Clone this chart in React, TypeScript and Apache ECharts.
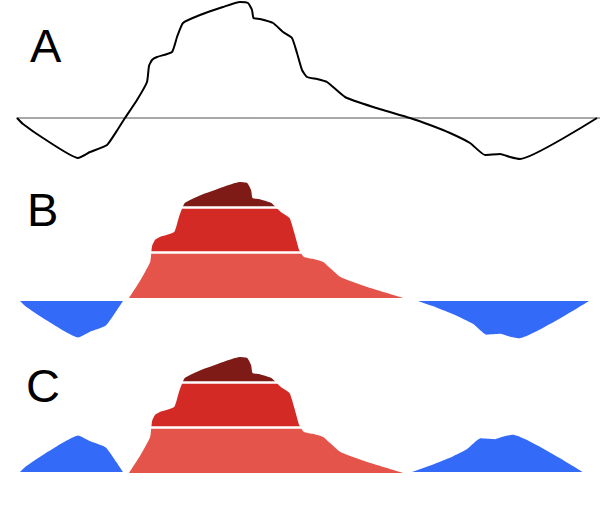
import React, { useEffect, useRef } from "react";
import * as echarts from "echarts";

// Series (time position, value; baseline = 0)
const times = [17, 23, 43, 78, 90, 107, 118, 125, 137, 147, 149, 152, 157, 172, 177, 183, 200, 223, 240, 248, 252, 253.5, 260, 273, 283, 292, 297, 302, 307, 317, 327, 345, 373, 410, 430, 450, 470, 485, 500, 510, 520, 597];
const values = [0, -6, -20, -40, -34, -27, -11, 0, 18, 36, 52, 58, 61, 66, 81, 95, 103, 111, 116, 115, 108, 100, 99, 95, 86, 80, 65, 48, 41, 39, 36, 21, 11, 0, -7, -15, -25, -37, -36, -39, -41, 0];

// Horizon band edges and the zero crossings that bound each segment
const bandEdges = [46, 91];
const crossings = [17, 125, 410, 597];
const panelLabels = ["A", "B", "C"];

const COLORS = {
  band1: "#E4544A",
  band2: "#D32A25",
  band3: "#7E1B16",
  negative: "#336AF8",
  line: "#000000",
  baseline: "#8c8c8c",
};

const SMOOTH = 0.15;

export default function App() {
  const ref = useRef<HTMLDivElement>(null);

  useEffect(() => {
    document.body.style.margin = "0";
    if (!ref.current) return;
    const chart = echarts.init(ref.current, undefined, { renderer: "svg" });
    const pts = times.map((x, i) => [x, values[i]]);
    const posMax = 118;
    const negMin = -45;

    // grid layouts (pixels) and axis domains
    const grids = [
      { left: 17, top: 0, width: 583, height: 163 }, // A
      { left: 129, top: 180, width: 274, height: 118 }, // B red
      { left: 20, top: 301, width: 103, height: 41 }, // B blue left
      { left: 418, top: 301, width: 171, height: 41 }, // B blue right
      { left: 129, top: 355, width: 274, height: 118 }, // C red
      { left: 20, top: 431, width: 103, height: 41 }, // C blue left
      { left: 412, top: 431, width: 171, height: 41 }, // C blue right
    ];
    const xDomains = [
      [crossings[0], 600],
      [crossings[1], crossings[2]],
      [crossings[0], crossings[1]],
      [crossings[2], crossings[3]],
      [crossings[1], crossings[2]],
      [crossings[0], crossings[1]],
      [crossings[2], crossings[3]],
    ];
    const yDomains = [
      [negMin, posMax],
      [0, posMax],
      [negMin, 0],
      [negMin, 0],
      [0, posMax],
      [negMin, 0],
      [negMin, 0],
    ];
    const inverse = [false, false, false, false, false, true, true];

    const xAxis = xDomains.map((d, i) => ({
      type: "value",
      gridIndex: i,
      min: d[0],
      max: d[1],
      show: i === 0,
      axisLine: { show: i === 0, onZero: true, lineStyle: { color: COLORS.baseline, width: 1.5 } },
      axisTick: { show: false },
      axisLabel: { show: false },
      splitLine: { show: false },
    }));
    const yAxis = yDomains.map((d, i) => ({
      type: "value",
      gridIndex: i,
      min: d[0],
      max: d[1],
      inverse: inverse[i],
      show: false,
      splitLine: { show: false },
    }));

    const redSeries = (idx: number) => ({
      type: "line",
      xAxisIndex: idx,
      yAxisIndex: idx,
      data: pts,
      smooth: SMOOTH,
      showSymbol: false,
      clip: true,
      lineStyle: { width: 0, opacity: 0 },
      areaStyle: { opacity: 1 },
      markLine: {
        silent: true,
        symbol: ["none", "none"],
        label: { show: false },
        lineStyle: { color: "#ffffff", width: 2.5, type: "solid", opacity: 1 },
        data: bandEdges.map((v) => ({ yAxis: v })),
      },
    });
    const blueSeries = (idx: number) => ({
      type: "line",
      xAxisIndex: idx,
      yAxisIndex: idx,
      data: pts,
      smooth: SMOOTH,
      showSymbol: false,
      clip: true,
      lineStyle: { width: 0, opacity: 0 },
      areaStyle: { color: COLORS.negative, opacity: 1 },
    });

    const labelPos = [
      [30, 45],
      [27, 209],
      [26, 385],
    ];

    chart.setOption({
      animation: false,
      backgroundColor: "#ffffff",
      grid: grids,
      xAxis,
      yAxis,
      visualMap: {
        type: "piecewise",
        show: false,
        dimension: 1,
        seriesIndex: [1, 4],
        pieces: [
          { lt: bandEdges[0], color: COLORS.band1 },
          { gte: bandEdges[0], lt: bandEdges[1], color: COLORS.band2 },
          { gte: bandEdges[1], color: COLORS.band3 },
        ],
      },
      series: [
        {
          type: "line",
          xAxisIndex: 0,
          yAxisIndex: 0,
          data: pts,
          smooth: SMOOTH,
          showSymbol: false,
          clip: false,
          lineStyle: { color: COLORS.line, width: 2 },
          z: 3,
        },
        redSeries(1),
        blueSeries(2),
        blueSeries(3),
        redSeries(4),
        blueSeries(5),
        blueSeries(6),
      ],
      graphic: panelLabels.map((s, i) => ({
        type: "text",
        x: labelPos[i][0],
        y: labelPos[i][1],
        style: {
          text: s,
          fontSize: 47,
          fontFamily: "Liberation Sans",
          fill: "#000000",
          verticalAlign: "middle",
          align: "left",
        },
      })),
    });
    return () => chart.dispose();
  }, []);

  return <div ref={ref} style={{ width: 600, height: 513 }} />;
}
